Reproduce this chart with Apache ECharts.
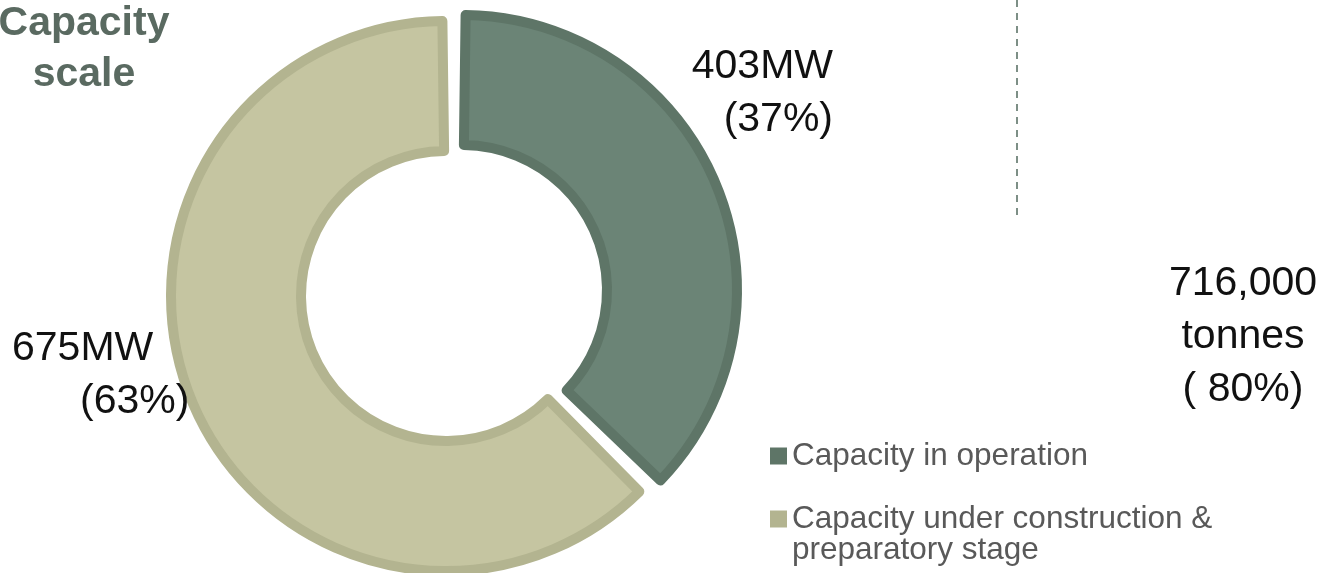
<!DOCTYPE html>
<html>
<head>
<meta charset="utf-8">
<script src="https://cdn.jsdelivr.net/npm/echarts@6/dist/echarts.min.js"></script>
<style>
  html, body { margin: 0; padding: 0; background: #fff; }
  #chart { width: 1326px; height: 573px; }
</style>
</head>
<body>
<div id="chart"></div>
<script>
// data
var categories = ['Capacity in operation', 'Capacity under construction & preparatory stage'];
var capacityMW = [403, 675];
var titleLines = ['Capacity', 'scale'];
var sideNote = ['716,000', 'tonnes', '( 80%)'];

var fills = ['#6B8476', '#C5C5A1'];
var borders = ['#5E7567', '#B3B490'];
// each slice is drawn by its own series so the operating slice can sit a bit apart
var centers = [[462, 290], [446, 296]];
// label anchor per slice (x, y of first line, align)
var labelPos = [
  { x: 833, y: 66, align: 'right' },
  { x: 12, y: 348, align: 'left' }
];

var chart = echarts.init(document.getElementById('chart'));

var labelFont = { fontFamily: 'Liberation Sans', fontSize: 41, color: '#111', lineHeight: 53 };

function sliceSeries(k) {
  return {
    type: 'pie',
    name: 'slice' + k,
    center: centers[k],
    radius: [145, 275],
    startAngle: 90,
    clockwise: true,
    padAngle: 1.5,
    silent: true,
    emphasis: { disabled: true },
    itemStyle: { borderWidth: 10 },
    label: {
      show: true,
      position: 'outside',
      overflow: 'none',
      fontFamily: 'Liberation Sans',
      fontSize: 41,
      color: '#111',
      formatter: function (p) {
        return '{v|' + p.value + 'MW}\n{p' + p.dataIndex + '|(' + Math.round(p.percent) + '%)}';
      },
      rich: {
        v: labelFont,
        p0: labelFont,
        p1: Object.assign({ padding: [0, 0, 0, 68] }, labelFont)
      }
    },
    labelLine: { show: false },
    labelLayout: function (params) {
      var pos = labelPos[params.dataIndex];
      return { x: pos.x, y: pos.y - 26, align: pos.align, verticalAlign: 'top' };
    },
    data: categories.map(function (name, i) {
      var own = i === k;
      return {
        name: name,
        value: capacityMW[i],
        itemStyle: own
          ? { color: fills[i], borderColor: borders[i] }
          : { color: 'rgba(0,0,0,0)', borderColor: 'rgba(0,0,0,0)', borderWidth: 0 },
        label: { show: own }
      };
    })
  };
}

var legendText = { fontFamily: 'Liberation Sans', fontSize: 31.5, color: '#595959', lineHeight: 31 };

chart.setOption({
  animation: false,
  title: {
    text: titleLines.join('\n'),
    left: 79,
    top: -7,
    textAlign: 'center',
    textStyle: {
      fontFamily: 'Liberation Sans',
      fontSize: 41,
      fontWeight: 'bold',
      color: '#5A6A61',
      lineHeight: 51
    }
  },
  legend: [{
    orient: 'vertical',
    left: 770,
    top: 440,
    padding: 0,
    itemWidth: 17,
    itemHeight: 17,
    icon: 'rect',
    selectedMode: false,
    data: [{ name: categories[0], itemStyle: { color: borders[0], borderWidth: 0 } }],
    textStyle: legendText
  }, {
    orient: 'vertical',
    left: 770,
    top: 472,
    padding: 0,
    itemWidth: 17,
    itemHeight: 17,
    icon: 'rect',
    selectedMode: false,
    data: [{ name: categories[1], itemStyle: { color: borders[1], borderWidth: 0 } }],
    formatter: function (name) {
      // blank first line keeps the icon level with the first text line
      return ' \n' + name.replace(' & ', ' &\n');
    },
    textStyle: legendText
  }],
  series: [sliceSeries(1), sliceSeries(0)],
  graphic: [{
    type: 'line',
    shape: { x1: 1017, y1: 0, x2: 1017, y2: 216 },
    style: { stroke: '#7D8F86', lineWidth: 2, lineDash: [7, 6] },
    silent: true
  }, {
    type: 'text',
    x: 1243,
    y: 337,
    style: {
      text: sideNote.join('\n'),
      fontFamily: 'Liberation Sans',
      fontSize: 41,
      lineHeight: 53,
      fill: '#111',
      align: 'center',
      verticalAlign: 'middle'
    },
    silent: true
  }]
});
</script>
</body>
</html>
